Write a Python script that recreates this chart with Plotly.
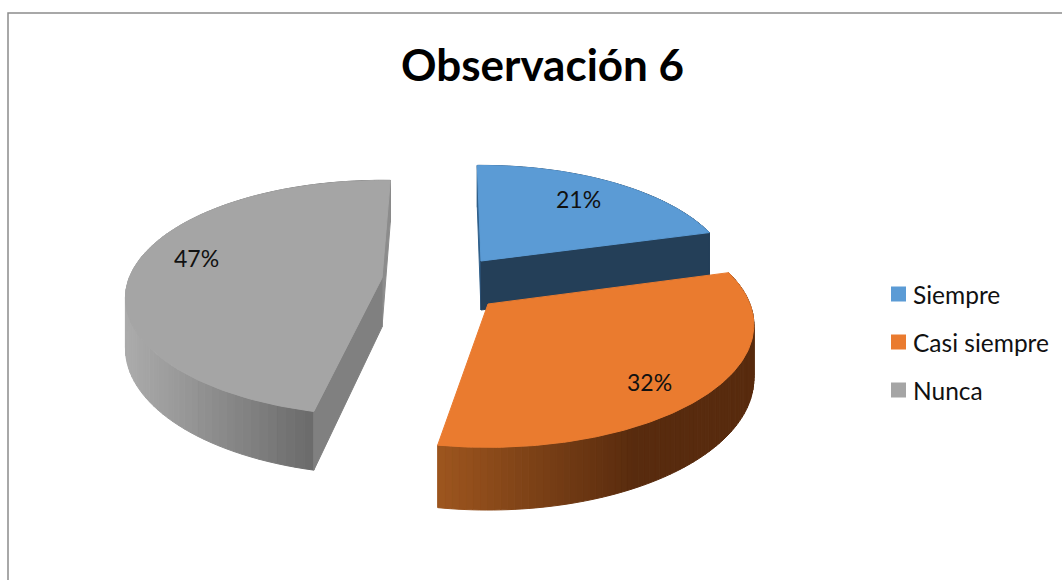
import numpy as np
import plotly.graph_objects as go

# --- data ---
categories = ["Siempre", "Casi siempre", "Nunca"]
values = [21, 32, 47]
title_text = "Observación 6"

# --- style ---
FONT = "Lato"
top_colors = ["#5B9BD5", "#EA7B2F", "#A5A5A5"]
front_cut = ["#243F58", None, "#808080"]
back_cut = ["#2F5F8A", None, "#8C8C8C"]
rim_left = [(45, 80, 115), (158, 86, 31), (172, 172, 172)]
rim_right = [(30, 55, 80), (88, 43, 14), (106, 106, 106)]
apex_pos = [(481, 261), (488, 304), (382, 278)]
rot = [-1.0, -1.6, 2.2]
sx = [0.945, 1.0, 0.965]
sy = [0.94, 1.0, 0.96]
depth = [49.0, 52.0, 49.0]
label_nudge = [(-3, -1), (1, 13), (-1, -9)]

RX, RY, K = 262.0, 119.0, 0.17
LEG_X, LEG_Y0, LEG_STEP, LEG_TEXT_X = 898.5, 294, 48, 913


def proj(i, ang_deg, r=1.0, drop=0.0):
    a = np.radians(np.asarray(ang_deg, dtype=float) + rot[i])
    X, Y = r * np.sin(a), r * np.cos(a)
    p = 1.0 / (1.0 + K * Y)
    ax, ay = apex_pos[i]
    return ax + sx[i] * RX * X * p, ay - sy[i] * RY * Y * p + drop * p


def poly(xs, ys, color, name=None):
    return go.Scatter(
        x=list(xs), y=list(ys), mode="lines", fill="toself", fillcolor=color,
        line=dict(color=color, width=1), hoverinfo="skip" if name is None else "name",
        name=name or "", showlegend=False,
    )


def cut_face(i, ang, color):
    ax, ay = apex_pos[i]
    ex, ey = proj(i, ang)
    bx, by = proj(i, ang, drop=depth[i])
    return poly([ax, ex, bx, ax, ax], [ay, ey, by, ay + depth[i], ay], color)


total = sum(values)
edges = np.cumsum([0] + values) / total * 360.0
fig = go.Figure()
annots = []

for i in [2, 0, 1]:  # painter's order: grey, blue, then orange in front
    ax, ay = apex_pos[i]
    a0, a1 = edges[i], edges[i + 1]
    steps = 90
    angs = np.linspace(a0, a1, steps + 1)
    xs_all = proj(i, angs)[0]
    for j in range(steps):
        seg = np.linspace(angs[j], angs[j + 1], 3)
        x1, y1 = proj(i, seg)
        x2, y2 = proj(i, seg[::-1], drop=depth[i])
        span = 190.0 if i == 2 else 200.0
        t = np.clip((x1.mean() - xs_all.min()) / span, 0, 1)
        c = [int(l + (r - l) * t) for l, r in zip(rim_left[i], rim_right[i])]
        fig.add_trace(poly(np.r_[x1, x2, x1[0]], np.r_[y1, y2, y1[0]], f"rgb({c[0]},{c[1]},{c[2]})"))
    # visible cut faces
    if i == 2:
        fig.add_trace(cut_face(i, a1, back_cut[i]))
        fig.add_trace(cut_face(i, a0, front_cut[i]))
    elif i == 0:
        fig.add_trace(cut_face(i, a0, back_cut[i]))
        fig.add_trace(cut_face(i, a1, front_cut[i]))
    # top face
    x, y = proj(i, np.linspace(a0, a1, 160))
    fig.add_trace(poly(np.r_[ax, x, ax], np.r_[ay, y, ay], top_colors[i], categories[i]))
    # data label
    lx, ly = proj(i, (a0 + a1) / 2, r=0.75)
    annots.append(dict(x=float(lx + label_nudge[i][0]), y=float(ly + label_nudge[i][1]),
                       text=f"{values[i]}%", showarrow=False,
                       font=dict(size=23, color="#111111", family=FONT)))

# legend
for i, c in enumerate(categories):
    y = LEG_Y0 + i * LEG_STEP
    fig.add_trace(go.Scatter(x=[LEG_X], y=[y], mode="markers", name=c, showlegend=False,
                             marker=dict(symbol="square", size=15, color=top_colors[i])))
    annots.append(dict(x=LEG_TEXT_X, y=y, xanchor="left", text=c, showarrow=False,
                       font=dict(size=24.5, color="#111111", family=FONT), xshift=-2))

annots.append(dict(x=542, y=64, text=f"<b>{title_text}</b>", showarrow=False,
                   font=dict(size=44, color="#000000", family=FONT)))

fig.update_layout(
    width=1062, height=580, autosize=False,
    margin=dict(l=0, r=0, t=0, b=0),
    paper_bgcolor="white", plot_bgcolor="white",
    xaxis=dict(range=[0, 1062], visible=False, fixedrange=True),
    yaxis=dict(range=[580, 0], visible=False, fixedrange=True),
    showlegend=False,
    annotations=annots,
    shapes=[dict(type="rect", x0=8, y0=13, x1=1080, y1=600, line=dict(color="#8C8C8C", width=1.5))],
)
fig.write_html("out.html", config={"displayModeBar": False},
               post_script="document.body.style.margin='0';")
